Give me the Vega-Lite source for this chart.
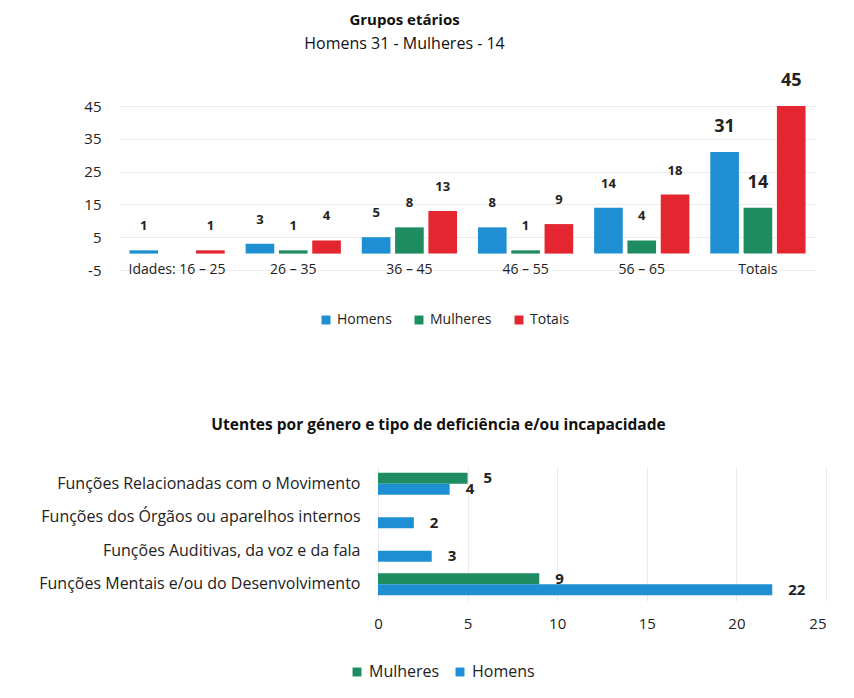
{
  "$schema": "https://vega.github.io/schema/vega-lite/v6.json",
  "background": "white",
  "padding": {"left": 38, "top": 13, "right": 10, "bottom": 20},
  "config": {
    "font": "Open Sans",
    "view": {"stroke": null},
    "axis": {"labelColor": "#222", "gridColor": "#ececec"},
    "legend": {"labelColor": "#222"},
    "title": {"color": "#111"}
  },
  "spacing": 90,
  "resolve": {"scale": {"color": "independent"}, "legend": {"color": "independent"}},
  "vconcat": [
    {
      "width": 697,
      "height": 164,
      "title": {
        "text": "Grupos etários",
        "subtitle": "Homens 31 -  Mulheres - 14",
        "fontSize": 15,
        "fontWeight": "bold",
        "subtitleFontSize": 16,
        "subtitleColor": "#111",
        "subtitlePadding": 8,
        "anchor": "middle",
        "frame": "group",
        "dx": -63,
        "offset": 20
      },
      "data": {
        "values": [
          {"grupo": "16 – 25", "serie": "Homens", "valor": 1},
          {"grupo": "16 – 25", "serie": "Totais", "valor": 1},
          {"grupo": "26 – 35", "serie": "Homens", "valor": 3},
          {"grupo": "26 – 35", "serie": "Mulheres", "valor": 1},
          {"grupo": "26 – 35", "serie": "Totais", "valor": 4},
          {"grupo": "36 – 45", "serie": "Homens", "valor": 5},
          {"grupo": "36 – 45", "serie": "Mulheres", "valor": 8},
          {"grupo": "36 – 45", "serie": "Totais", "valor": 13},
          {"grupo": "46 – 55", "serie": "Homens", "valor": 8},
          {"grupo": "46 – 55", "serie": "Mulheres", "valor": 1},
          {"grupo": "46 – 55", "serie": "Totais", "valor": 9},
          {"grupo": "56 – 65", "serie": "Homens", "valor": 14},
          {"grupo": "56 – 65", "serie": "Mulheres", "valor": 4},
          {"grupo": "56 – 65", "serie": "Totais", "valor": 18},
          {"grupo": "Totais", "serie": "Homens", "valor": 31},
          {"grupo": "Totais", "serie": "Mulheres", "valor": 14},
          {"grupo": "Totais", "serie": "Totais", "valor": 45}
        ]
      },
      "encoding": {
        "x": {
          "field": "grupo",
          "type": "nominal",
          "sort": ["16 – 25", "26 – 35", "36 – 45", "46 – 55", "56 – 65", "Totais"],
          "scale": {"paddingInner": 0.18, "paddingOuter": 0.09},
          "axis": {
            "title": null,
            "labelAngle": 0,
            "domain": false,
            "ticks": false,
            "offset": -10,
            "labelPadding": 2,
            "labelFontSize": 14,
            "labelExpr": "datum.value == '16 – 25' ? 'Idades: 16 – 25' : datum.value"
          }
        },
        "xOffset": {
          "field": "serie",
          "sort": ["Homens", "Mulheres", "Totais"],
          "scale": {"paddingInner": 0.14}
        },
        "y": {
          "field": "valor",
          "type": "quantitative",
          "stack": null,
          "scale": {"domain": [-5, 45], "nice": false, "zero": false},
          "axis": {
            "title": null,
            "values": [-5, 5, 15, 25, 35, 45],
            "labelExpr": "replace(datum.label, '−', '-')",
            "domain": false,
            "ticks": false,
            "grid": true,
            "labelFontSize": 15,
            "labelPadding": 18
          }
        }
      },
      "layer": [
        {
          "mark": {"type": "bar"},
          "encoding": {
            "color": {
              "field": "serie",
              "type": "nominal",
              "scale": {"domain": ["Homens", "Mulheres", "Totais"], "range": ["#1f8fd3", "#1e8c60", "#e3262f"]},
              "legend": {
                "orient": "none",
                "legendX": 200,
                "legendY": 207,
                "direction": "horizontal",
                "title": null,
                "symbolType": "square",
                "symbolSize": 80,
                "labelFontSize": 14,
                "columnPadding": 20
              }
            }
          }
        },
        {
          "transform": [{"filter": "datum.grupo != 'Totais'"}],
          "mark": {"type": "text", "baseline": "bottom", "dy": -17, "fontSize": 13, "fontWeight": "bold", "color": "#222"},
          "encoding": {"text": {"field": "valor", "type": "quantitative"}}
        },
        {
          "transform": [{"filter": "datum.grupo == 'Totais'"}],
          "mark": {"type": "text", "baseline": "bottom", "dy": -16, "fontSize": 18, "fontWeight": "bold", "color": "#222"},
          "encoding": {"text": {"field": "valor", "type": "quantitative"}}
        }
      ]
    },
    {
      "width": 707,
      "height": 134,
      "title": {
        "text": "Utentes por género e tipo de deficiência e/ou incapacidade",
        "fontSize": 15.5,
        "fontWeight": "bold",
        "anchor": "middle",
        "frame": "group",
        "dx": -34,
        "offset": 34
      },
      "data": {
        "values": [
          {"categoria": "Funções Relacionadas com o Movimento", "serie": "Mulheres", "valor": 5},
          {"categoria": "Funções Relacionadas com o Movimento", "serie": "Homens", "valor": 4},
          {"categoria": "Funções dos Órgãos ou aparelhos internos", "serie": "Homens", "valor": 2},
          {"categoria": "Funções Auditivas, da voz e da fala", "serie": "Homens", "valor": 3},
          {"categoria": "Funções Mentais e/ou do Desenvolvimento", "serie": "Mulheres", "valor": 9},
          {"categoria": "Funções Mentais e/ou do Desenvolvimento", "serie": "Homens", "valor": 22}
        ]
      },
      "encoding": {
        "y": {
          "field": "categoria",
          "type": "nominal",
          "sort": [
            "Funções Relacionadas com o Movimento",
            "Funções dos Órgãos ou aparelhos internos",
            "Funções Auditivas, da voz e da fala",
            "Funções Mentais e/ou do Desenvolvimento"
          ],
          "scale": {"paddingInner": 0.35, "paddingOuter": 0.175},
          "axis": {
            "title": null,
            "domain": false,
            "ticks": false,
            "offset": -259,
            "labelFontSize": 16,
            "labelPadding": 18,
            "labelLimit": 400
          }
        },
        "yOffset": {"field": "serie", "sort": ["Mulheres", "Homens"]},
        "x": {
          "field": "valor",
          "type": "quantitative",
          "stack": null,
          "scale": {"domain": [-14.45, 25], "nice": false, "zero": false},
          "axis": {
            "title": null,
            "values": [0, 5, 10, 15, 20, 25],
            "domain": false,
            "ticks": false,
            "grid": true,
            "labelFontSize": 15,
            "labelPadding": 15
          }
        }
      },
      "layer": [
        {
          "mark": {"type": "bar"},
          "encoding": {
            "color": {
              "field": "serie",
              "type": "nominal",
              "scale": {"domain": ["Mulheres", "Homens"], "range": ["#1e8c60", "#1f8fd3"]},
              "legend": {
                "orient": "none",
                "legendX": 230,
                "legendY": 197,
                "direction": "horizontal",
                "title": null,
                "symbolType": "square",
                "symbolSize": 80,
                "labelFontSize": 16,
                "columnPadding": 12
              }
            }
          }
        },
        {
          "mark": {"type": "text", "align": "left", "baseline": "middle", "dx": 16, "fontSize": 15, "fontWeight": "bold", "color": "#222"},
          "encoding": {"text": {"field": "valor", "type": "quantitative"}}
        }
      ]
    }
  ]
}
